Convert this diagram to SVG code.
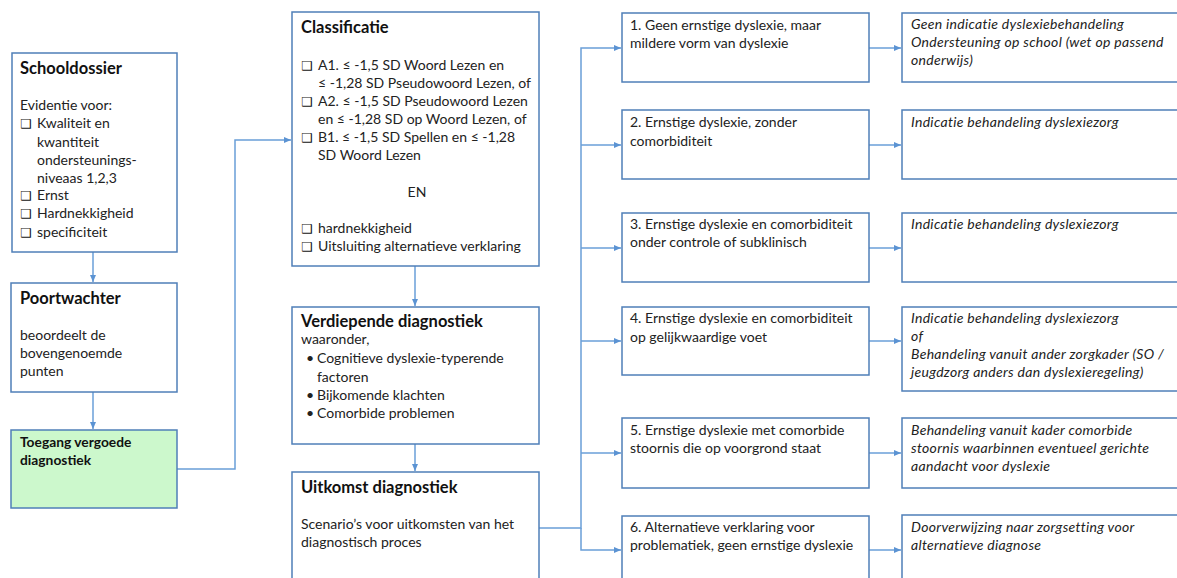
<svg xmlns="http://www.w3.org/2000/svg" width="1177" height="578" viewBox="0 0 1177 578">
<style>
.box{fill:#fff;stroke:#4f7fb8;stroke-width:1.5}
.green{fill:#ccf8cc}
.t{font-family:Lato,"Liberation Sans",sans-serif;font-size:14px;fill:#222}
.h{font-family:Lato,"Liberation Sans",sans-serif;font-size:16.5px;font-weight:bold;fill:#111}
.hb{font-family:Lato,"Liberation Sans",sans-serif;font-size:13.8px;font-weight:bold;fill:#111}
.i{font-family:Lato,"Liberation Sans",sans-serif;font-size:14px;font-style:italic;letter-spacing:0.3px;fill:#222}
.cb{font-family:"DejaVu Sans",sans-serif;font-size:12.5px;font-weight:bold;fill:#111}
.c{fill:none;stroke:#6a9fd8;stroke-width:1.5}
</style>
<defs>
<marker id="ah" markerWidth="8" markerHeight="8" refX="7" refY="4" orient="auto" markerUnits="userSpaceOnUse">
<path d="M0,1 L7,4 L0,7 Z" fill="#5b93d3"/>
</marker>
</defs>

<g id="connectors">
<path class="c" d="M93,252 V282" marker-end="url(#ah)"/>
<path class="c" d="M93,392 V429" marker-end="url(#ah)"/>
<path class="c" d="M177,469 H235 V140 H291" marker-end="url(#ah)"/>
<path class="c" d="M415,266 V306" marker-end="url(#ah)"/>
<path class="c" d="M415,444 V471" marker-end="url(#ah)"/>
<path class="c" d="M539,528 H581 V48 H621" marker-end="url(#ah)"/>
<path class="c" d="M581,145 H621" marker-end="url(#ah)"/>
<path class="c" d="M581,248 H621" marker-end="url(#ah)"/>
<path class="c" d="M581,341 H621" marker-end="url(#ah)"/>
<path class="c" d="M581,453 H621" marker-end="url(#ah)"/>
<path class="c" d="M581,528 V550 H621" marker-end="url(#ah)"/>
<path class="c" d="M869,48 H901" marker-end="url(#ah)"/>
<path class="c" d="M869,145 H901" marker-end="url(#ah)"/>
<path class="c" d="M869,248 H901" marker-end="url(#ah)"/>
<path class="c" d="M869,341 H901" marker-end="url(#ah)"/>
<path class="c" d="M869,453 H901" marker-end="url(#ah)"/>
<path class="c" d="M869,550 H901" marker-end="url(#ah)"/>
</g>

<g id="schooldossier">
<rect class="box" x="12" y="53" width="165" height="199"/>
<text class="h" x="20" y="74">Schooldossier</text>
<text class="t" x="20" y="110">Evidentie voor:</text>
<text class="cb" x="20" y="128">❑</text><text class="t" x="37" y="128">Kwaliteit en</text>
<text class="t" x="37" y="147">kwantiteit</text>
<text class="t" x="37" y="165">ondersteunings-</text>
<text class="t" x="37" y="183">niveaas 1,2,3</text>
<text class="cb" x="20" y="200">❑</text><text class="t" x="37" y="200">Ernst</text>
<text class="cb" x="20" y="218">❑</text><text class="t" x="37" y="218">Hardnekkigheid</text>
<text class="cb" x="20" y="237">❑</text><text class="t" x="37" y="237">specificiteit</text>
</g>

<g id="poortwachter">
<rect class="box" x="11" y="283" width="166" height="109"/>
<text class="h" x="20" y="304">Poortwachter</text>
<text class="t" x="20" y="340">beoordeelt de</text>
<text class="t" x="20" y="358">bovengenoemde</text>
<text class="t" x="20" y="376">punten</text>
</g>

<g id="toegang">
<rect class="box green" x="11" y="430" width="166" height="78"/>
<text class="hb" x="20" y="447">Toegang vergoede</text>
<text class="hb" x="20" y="465">diagnostiek</text>
</g>

<g id="classificatie">
<rect class="box" x="292" y="12" width="247" height="254"/>
<text class="h" x="301" y="33">Classificatie</text>
<text class="cb" x="301" y="70">❑</text><text class="t" x="318" y="70">A1. ≤ -1,5 SD Woord Lezen en</text>
<text class="t" x="318" y="88">≤ -1,28 SD Pseudowoord Lezen, of</text>
<text class="cb" x="301" y="106">❑</text><text class="t" x="318" y="106">A2. ≤  -1,5 SD Pseudowoord Lezen</text>
<text class="t" x="318" y="124">en ≤ -1,28 SD op Woord Lezen, of</text>
<text class="cb" x="301" y="142">❑</text><text class="t" x="318" y="142">B1. ≤ -1,5 SD Spellen en ≤ -1,28</text>
<text class="t" x="318" y="160">SD Woord Lezen</text>
<text class="t" x="417" y="197" text-anchor="middle">EN</text>
<text class="cb" x="301" y="233">❑</text><text class="t" x="318" y="233">hardnekkigheid</text>
<text class="cb" x="301" y="251">❑</text><text class="t" x="318" y="251">Uitsluiting alternatieve verklaring</text>
</g>

<g id="verdiepende">
<rect class="box" x="292" y="307" width="247" height="137"/>
<text class="h" x="301" y="327">Verdiepende diagnostiek</text>
<text class="t" x="301" y="344">waaronder,</text>
<text class="t" x="306" y="363">•</text><text class="t" x="317" y="363">Cognitieve dyslexie-typerende</text>
<text class="t" x="317" y="382">factoren</text>
<text class="t" x="306" y="400">•</text><text class="t" x="317" y="400">Bijkomende klachten</text>
<text class="t" x="306" y="418">•</text><text class="t" x="317" y="418">Comorbide problemen</text>
</g>

<g id="uitkomst">
<rect class="box" x="292" y="472" width="247" height="120"/>
<text class="h" x="301" y="493">Uitkomst diagnostiek</text>
<text class="t" x="301" y="529">Scenario’s voor uitkomsten van het</text>
<text class="t" x="301" y="547">diagnostisch proces</text>
</g>

<g id="s1">
<rect class="box" x="622" y="13" width="247" height="69"/>
<text class="t" x="630" y="30">1. Geen ernstige dyslexie, maar</text>
<text class="t" x="630" y="48">mildere vorm van dyslexie</text>
</g>
<g id="s2">
<rect class="box" x="622" y="110" width="247" height="69"/>
<text class="t" x="630" y="127">2. Ernstige dyslexie, zonder</text>
<text class="t" x="630" y="146">comorbiditeit</text>
</g>
<g id="s3">
<rect class="box" x="622" y="213" width="247" height="69"/>
<text class="t" x="630" y="229">3. Ernstige dyslexie en comorbiditeit</text>
<text class="t" x="630" y="247">onder controle of subklinisch</text>
</g>
<g id="s4">
<rect class="box" x="622" y="307" width="247" height="68"/>
<text class="t" x="630" y="323">4. Ernstige dyslexie en comorbiditeit</text>
<text class="t" x="630" y="342">op gelijkwaardige voet</text>
</g>
<g id="s5">
<rect class="box" x="622" y="418" width="247" height="70"/>
<text class="t" x="630" y="435">5. Ernstige dyslexie met comorbide</text>
<text class="t" x="630" y="453">stoornis die op voorgrond staat</text>
</g>
<g id="s6">
<rect class="box" x="622" y="516" width="247" height="80"/>
<text class="t" x="630" y="532">6. Alternatieve verklaring voor</text>
<text class="t" x="630" y="550">problematiek, geen ernstige dyslexie</text>
</g>

<g id="r1">
<rect class="box" x="902" y="13" width="290" height="69"/>
<text class="i" x="911" y="29">Geen indicatie dyslexiebehandeling</text>
<text class="i" x="911" y="47">Ondersteuning op school (wet op passend</text>
<text class="i" x="911" y="65">onderwijs)</text>
</g>
<g id="r2">
<rect class="box" x="902" y="110" width="290" height="69"/>
<text class="i" x="911" y="127">Indicatie behandeling dyslexiezorg</text>
</g>
<g id="r3">
<rect class="box" x="902" y="213" width="290" height="69"/>
<text class="i" x="911" y="229">Indicatie behandeling dyslexiezorg</text>
</g>
<g id="r4">
<rect class="box" x="902" y="307" width="290" height="84"/>
<text class="i" x="911" y="323">Indicatie behandeling dyslexiezorg</text>
<text class="i" x="911" y="341">of</text>
<text class="i" x="911" y="359">Behandeling vanuit ander zorgkader (SO /</text>
<text class="i" x="911" y="377">jeugdzorg anders dan dyslexieregeling)</text>
</g>
<g id="r5">
<rect class="box" x="902" y="418" width="290" height="70"/>
<text class="i" x="911" y="435">Behandeling vanuit kader comorbide</text>
<text class="i" x="911" y="453">stoornis waarbinnen eventueel gerichte</text>
<text class="i" x="911" y="471">aandacht voor dyslexie</text>
</g>
<g id="r6">
<rect class="box" x="902" y="515" width="290" height="80"/>
<text class="i" x="911" y="532">Doorverwijzing naar zorgsetting voor</text>
<text class="i" x="911" y="550">alternatieve diagnose</text>
</g>
</svg>
